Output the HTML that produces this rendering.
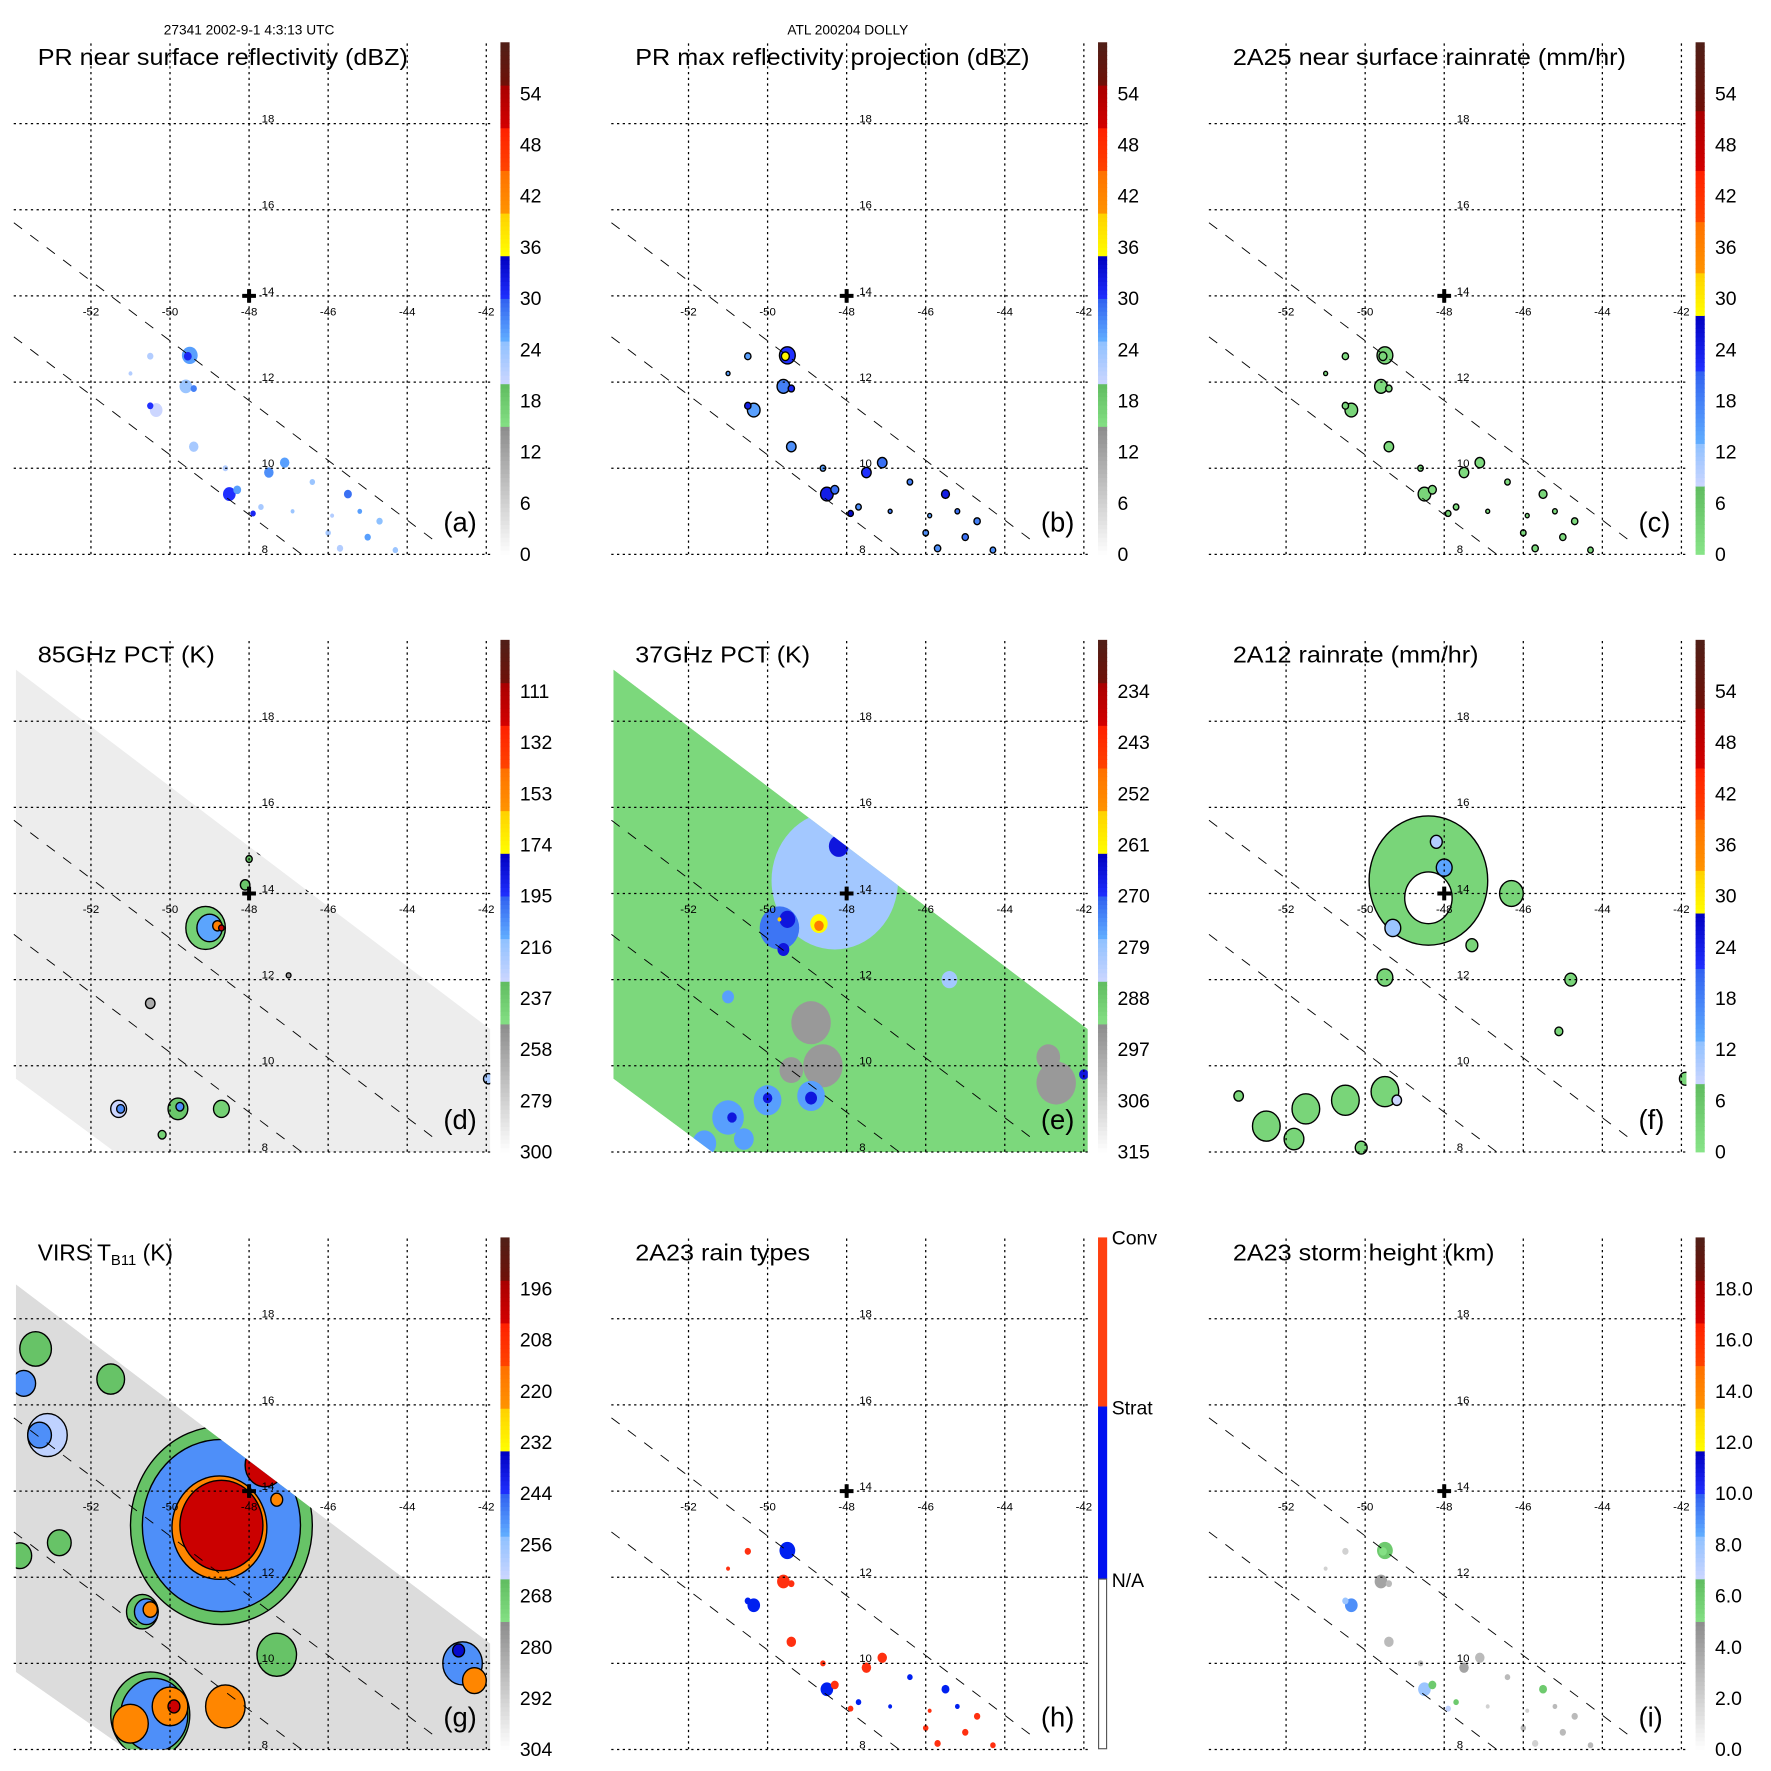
<!DOCTYPE html>
<html><head><meta charset="utf-8"><style>
html,body{margin:0;padding:0;background:#fff}
svg{display:block;font-family:"Liberation Sans",Arial,sans-serif}
</style></head><body>
<svg id="fig" xmlns="http://www.w3.org/2000/svg" width="1771" height="1771" viewBox="0 0 1550 1550">
<text x="218" y="30" font-size="12" text-anchor="middle">27341 2002-9-1 4:3:13 UTC</text>
<text x="742" y="30" font-size="12" text-anchor="middle">ATL 200204 DOLLY</text>
</svg>
<script>
// ---- shared PR swath speckle locations (lon, lat) ----
const prLon=[-49.5,-49.55,-50.35,-50.5,-49.6,-49.4,-48.5,-48.3,-47.5,-47.1,-45.5,-45.0,-47.9,-49.4,-50.5,-46.4,-44.3,-45.7,-44.7,-47.7,-48.6,-51.0,-46.0,-46.9,-45.9,-45.2];
const prLat=[12.62,12.6,11.35,11.45,11.9,11.85,9.4,9.5,9.9,10.13,9.4,8.4,8.95,10.5,12.6,9.68,8.1,8.14,8.77,9.1,10.0,12.2,8.5,9.0,8.9,9.0];
const prSize=[0.2,0.1,0.16,0.08,0.16,0.08,0.16,0.1,0.12,0.12,0.1,0.08,0.07,0.12,0.08,0.07,0.07,0.08,0.08,0.07,0.07,0.05,0.07,0.05,0.05,0.06];
const aVal=[26,31,20,30,24,28,30,26,27,26,29,26,31,23,22,24,24,22,25,23,22,22,23,24,22,26];
const bVal=[30,36,26,32,28,31,32,29,30,29,32,29,34,27,26,28,27,27,28,27,26,26,27,28,26,29];
const cVal=[3,3,3,3,2,2,3,2,2,2,3,2,4,2,2,2,2,2,2,2,2,2,2,2,2,2];
const hType=[1,1,1,1,2,2,1,2,2,2,1,2,2,2,2,1,2,2,2,1,2,2,2,1,2,1];
const iVal=[6,5,9,8,4,3,8,6,4,3,6,3,7,3,2,3,3,2,3,6,3,2,3,2,2,3];
// ---- 85 GHz PCT blobs ----
const dLon=[-49.1,-49.0,-48.8,-48.7,-48.1,-47.7,-46.5,-51.3,-51.25,-49.8,-49.75,-48.7,-41.95,-50.5,-47.0,-52.3,-50.2,-48.0];
const dLat=[13.2,13.2,13.25,13.2,14.2,15.0,14.1,9.0,9.0,9.0,9.05,9.0,9.7,11.45,12.1,8.1,8.4,14.8];
const dVal=[240,210,150,120,235,230,260,230,205,235,205,240,220,262,255,240,240,232];
const dSize=[0.5,0.32,0.12,0.07,0.12,0.1,0.05,0.2,0.1,0.25,0.1,0.2,0.12,0.12,0.06,0.1,0.1,0.08];
// ---- 37 GHz PCT blobs ----
const eLon=[-48.3,-49.7,-48.2,-49.5,-49.6,-48.7,-48.7,-49.7,-47.8,-48.9,-48.6,-49.4,-42.7,-42.9,-51.0,-50.0,-48.9,-50.9,-50.0,-48.9,-51.6,-50.6,-45.4,-42.0,-51.0];
const eLat=[14.3,13.2,15.1,13.4,12.7,13.3,13.25,13.4,15.3,11.0,10.0,9.9,9.6,10.2,8.8,9.2,9.3,8.8,9.25,9.25,8.2,8.3,12.0,9.8,11.6];
const eVal=[280,272,266,266,266,262,250,255,258,295,295,295,295,295,276,276,276,266,266,266,276,276,280,266,276];
const eSize=[1.6,0.5,0.25,0.2,0.15,0.22,0.12,0.05,0.06,0.5,0.5,0.3,0.5,0.3,0.4,0.35,0.35,0.12,0.12,0.15,0.3,0.25,0.2,0.12,0.15];
// ---- 2A12 rainrate blobs (0 = rain-free hole) ----
const fLon=[-48.4,-48.4,-48.0,-49.3,-48.2,-49.5,-44.8,-41.9,-45.1,-46.3,-47.3,-52.5,-51.5,-50.5,-49.5,-51.8,-49.2,-50.1,-53.2];
const fLat=[14.3,13.9,14.6,13.2,15.2,12.05,12.0,9.7,10.8,14.0,12.8,8.6,9.0,9.2,9.4,8.3,9.2,8.1,9.3];
const fVal=[3,0,14,12,10,3,3,3,3,3,3,3,3,3,3,3,8,3,3];
const fSize=[1.5,0.6,0.2,0.2,0.15,0.2,0.15,0.15,0.1,0.3,0.15,0.35,0.35,0.35,0.35,0.25,0.12,0.15,0.12];
// ---- VIRS Tb11 blobs (outer to inner) ----
const gLon=[-48.7,-48.7,-48.75,-48.7,-47.6,-47.3,-50.5,-50.4,-51.0,-50.0,-49.9,-48.6,-47.3,-50.7,-50.6,-50.5,-42.6,-42.3,-42.7,-53.4,-51.5,-53.1,-52.8,-53.7,-53.3,-53.8];
const gLat=[13.2,13.2,13.15,13.2,14.6,13.8,8.8,8.8,8.6,9.0,9.0,9.0,10.2,11.2,11.2,11.25,10.0,9.6,10.3,17.3,16.6,15.3,12.8,16.5,15.3,12.5];
const gVal=[266,250,220,202,202,220,266,250,220,220,202,220,266,266,250,220,250,220,236,266,266,262,266,250,250,266];
const gSize=[2.3,2.0,1.2,1.05,0.5,0.15,1.0,0.85,0.45,0.45,0.15,0.5,0.5,0.4,0.3,0.18,0.5,0.3,0.15,0.4,0.35,0.5,0.3,0.3,0.3,0.3];
// ---- colorbar tick labels ----
const ticksA=["0","6","12","18","24","30","36","42","48","54"];
const ticksD=["300","279","258","237","216","195","174","153","132","111"];
const ticksE=["315","306","297","288","279","270","261","252","243","234"];
const ticksG=["304","292","280","268","256","244","232","220","208","196"];
const ticksI=["0.0","2.0","4.0","6.0","8.0","10.0","12.0","14.0","16.0","18.0"];
const lonTicks=[-52,-50,-48,-46,-44,-42];
const latTicks=[18,16,14,12,10,8];

const schemeA=[[0,0.25,'#ffffff','#8c8c8c'],[0.25,0.333,'#84e084','#60bc60'],[0.333,0.42,'#ccd6ff','#8cc0ff'],[0.42,0.5,'#60acff','#3060f0'],[0.5,0.583,'#2030ff','#0000c0'],[0.583,0.667,'#ffff00','#ffd000'],[0.667,0.75,'#ff9400','#ff7000'],[0.75,0.833,'#ff4400','#ff2000'],[0.833,0.917,'#d40000','#a80000'],[0.917,1,'#701008','#502018']];
const schemeC=[[0,0.133,'#88e488','#60bc60'],[0.133,0.22,'#ccd6ff','#8cc0ff'],[0.22,0.36,'#60acff','#3060f0'],[0.36,0.467,'#2030ff','#0000c0'],[0.467,0.55,'#ffff00','#ffd000'],[0.55,0.65,'#ff9400','#ff7000'],[0.65,0.75,'#ff4400','#ff2000'],[0.75,0.867,'#d40000','#a80000'],[0.867,1,'#701008','#502018']];
const NS='http://www.w3.org/2000/svg';
const svg=document.getElementById('fig');
function mk(tag,attrs,parent){const e=document.createElementNS(NS,tag);for(const k in attrs)e.setAttribute(k,attrs[k]);(parent||svg).appendChild(e);return e;}
function hex(c){return [1,3,5].map(i=>parseInt(c.substr(i,2),16));}
function mix(a,b,t){const A=hex(a),B=hex(b);return 'rgb('+A.map((v,i)=>Math.round(v+(B[i]-v)*t)).join(',')+')';}
function colorAt(sch,f){f=Math.max(0,Math.min(0.9999,f));for(const s of sch){if(f>=s[0]&&f<s[1])return mix(s[2],s[3],(f-s[0])/(s[1]-s[0]));}return sch[sch.length-1][3];}
const S=34.6,T=37.7;
function X(ox,lon){return ox+218+(lon+48)*S;}
function Y(oy,lat){return oy+259-(lat-14)*T;}
const swathTMI=[[-53.9,19.2],[-41.9,10.85],[-41.9,8.0],[-51.4,8.0],[-53.9,9.7]];
const swathVIRS=[[-53.9,18.8],[-41.9,10.46],[-41.9,8.0],[-51.1,8.0],[-53.9,9.8]];

const panels=[
 {k:'a',c:0,r:0,title:'PR near surface reflectivity (dBZ)',tl:324,lo:0,hi:60,rev:false,sch:schemeA,ticks:ticksA,lon:prLon,lat:prLat,val:aVal,size:prSize,stroke:false},
 {k:'b',c:1,r:0,title:'PR max reflectivity projection (dBZ)',tl:345,lo:0,hi:60,rev:false,sch:schemeA,ticks:ticksA,lon:prLon,lat:prLat,val:bVal,size:prSize,stroke:true},
 {k:'c',c:2,r:0,title:'2A25 near surface rainrate (mm/hr)',tl:344,lo:0,hi:60,rev:false,sch:schemeC,ticks:ticksA,lon:prLon,lat:prLat,val:cVal,size:prSize,stroke:true},
 {k:'d',c:0,r:1,title:'85GHz PCT (K)',tl:155,lo:90,hi:300,rev:true,sch:schemeA,ticks:ticksD,lon:dLon,lat:dLat,val:dVal,size:dSize,stroke:true,swath:swathTMI,bg:'#ededed'},
 {k:'e',c:1,r:1,title:'37GHz PCT (K)',tl:153,lo:225,hi:315,rev:true,sch:schemeA,ticks:ticksE,lon:eLon,lat:eLat,val:eVal,size:eSize,stroke:false,swath:swathTMI,bg:'#7cd87c'},
 {k:'f',c:2,r:1,title:'2A12 rainrate (mm/hr)',tl:215,lo:0,hi:60,rev:false,sch:schemeC,ticks:ticksA,lon:fLon,lat:fLat,val:fVal,size:fSize,stroke:true},
 {k:'g',c:0,r:2,title:null,lo:184,hi:304,rev:true,sch:schemeA,ticks:ticksG,lon:gLon,lat:gLat,val:gVal,size:gSize,stroke:true,swath:swathVIRS,bg:'#dcdcdc'},
 {k:'h',c:1,r:2,title:'2A23 rain types',tl:153,types:true,lon:prLon,lat:prLat,val:hType,size:prSize},
 {k:'i',c:2,r:2,title:'2A23 storm height (km)',tl:229,lo:0,hi:20,rev:false,sch:schemeA,ticks:ticksI,lon:prLon,lat:prLat,val:iVal,size:prSize,stroke:false}
];

panels.forEach(p=>{
 const ox=p.c*523, oy=p.r*523;
 const g=mk('g',{});
 
 
 const cid='clip-'+p.k;
 const defs=mk('defs',{},g);
 const cp=mk('clipPath',{id:cid},defs);
 if(p.swath){mk('polygon',{points:p.swath.map(q=>X(ox,q[0])+','+Y(oy,q[1])).join(' ')},cp);}
 else mk('rect',{x:ox+12,y:oy+38,width:418,height:450},cp);
 const map=mk('g',{'clip-path':'url(#'+cid+')'},g);
 
 
 if(p.swath){
  const bg=mk('polygon',{points:p.swath.map(q=>X(ox,q[0])+','+Y(oy,q[1])).join(' '),fill:p.bg},map);
  
  
 }
 for(let i=0;i<p.lon.length;i++){
  let fill;
  if(p.types){fill=p.val[i]===1?'#0020f0':'#ff3010';}
  else if(p.sch===schemeC&&p.val[i]<=0){fill='#ffffff';}
  else{const f=p.rev?(p.hi-p.val[i])/(p.hi-p.lo):(p.val[i]-p.lo)/(p.hi-p.lo);fill=colorAt(p.sch,f);}
  const el=mk('ellipse',{cx:X(ox,p.lon[i]),cy:Y(oy,p.lat[i]),rx:p.size[i]*S,ry:p.size[i]*T,fill:fill},map);
  if(p.stroke){el.setAttribute('stroke','#000');el.setAttribute('stroke-width','1.2');}
  
  
 }
 [[[-53.95,15.7],[-43.2,8.24]],[[-53.95,13.05],[-46.67,8.0]]].forEach(L=>{
  const ln=mk('line',{x1:X(ox,L[0][0]),y1:Y(oy,L[0][1]),x2:X(ox,L[1][0]),y2:Y(oy,L[1][1]),stroke:'#000','stroke-width':0.8,'stroke-dasharray':'9,9'},g);
  
  
 });
 lonTicks.forEach(v=>{
  const ln=mk('line',{x1:X(ox,v),y1:oy+38,x2:X(ox,v),y2:oy+488,stroke:'#000','stroke-width':1.1,'stroke-dasharray':'2,3'},g);
  
  
  const t=mk('text',{x:X(ox,v),y:oy+276,'font-size':10,'text-anchor':'middle'},g);
  t.textContent=String(v);
  
  
 });
 latTicks.forEach(v=>{
  const ln=mk('line',{x1:ox+12,y1:Y(oy,v),x2:ox+430,y2:Y(oy,v),stroke:'#000','stroke-width':1.1,'stroke-dasharray':'2,3'},g);
  
  
  const t=mk('text',{x:ox+229,y:Y(oy,v)-1,'font-size':10},g);
  t.textContent=String(v);
  
  
 });
 const cr=mk('path',{d:`M${X(ox,-48)-6},${Y(oy,14)}h12M${X(ox,-48)},${Y(oy,14)-6}v12`,stroke:'#000','stroke-width':3.5},g);
 
 
 const tt=mk('text',{x:ox+33,y:oy+57,'font-size':20},g);
 if(p.title){tt.textContent=p.title;tt.setAttribute('textLength',p.tl);tt.setAttribute('lengthAdjust','spacingAndGlyphs');}
 else{tt.appendChild(document.createTextNode('VIRS T'));const s=mk('tspan',{'font-size':13,dy:4},tt);s.textContent='B11';const s2=mk('tspan',{dy:-4},tt);s2.textContent=' (K)';}
 
 
 const lt=mk('text',{x:ox+388,y:oy+465,'font-size':24},g);
 lt.textContent='('+p.k+')';
 
 
 const cb=mk('g',{},g);
 
 
 const cx0=ox+438,top=oy+37,bot=oy+485,H=bot-top;
 if(p.types){
  mk('rect',{x:cx0,y:top,width:8,height:148,fill:'#ff4010'},cb);
  mk('rect',{x:cx0,y:top+148,width:8,height:151,fill:'#0010f0'},cb);
  mk('rect',{x:cx0+0.5,y:top+299,width:7,height:148.5,fill:'#fff',stroke:'#555','stroke-width':1},cb);
  [['Conv',0],['Strat',149],['N/A',300]].forEach(q=>{const t=mk('text',{x:ox+450,y:top+q[1]+6,'font-size':17},cb);t.textContent=q[0];});
 } else {
  const n=120;
  for(let j=0;j<n;j++){
   const f=(j+0.5)/n;
   mk('rect',{x:cx0,y:bot-(j+1)*H/n,width:8,height:H/n+0.6,fill:colorAt(p.sch,f)},cb);
  }
  p.ticks.forEach((s,j)=>{
   const yy=bot-j*0.1*H;
   const t=mk('text',{x:ox+455,y:yy+6,'font-size':17},cb);
   t.textContent=s;
   
   
  });
 }
});
</script>
</body></html>
